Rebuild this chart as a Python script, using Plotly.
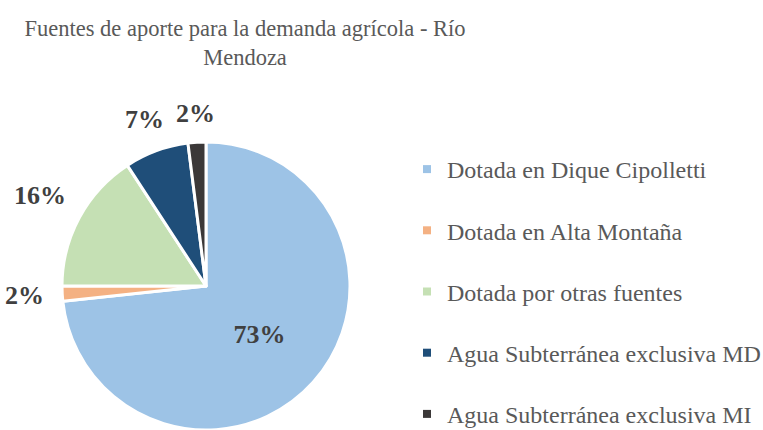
import math
import plotly.graph_objects as go

labels = ["Dotada en Dique Cipolletti", "Dotada en Alta Montaña", "Dotada por otras fuentes",
          "Agua Subterránea exclusiva MD", "Agua Subterránea exclusiva MI"]
values = [73.3, 1.7, 15.8, 7.2, 2.0]
colors = ["#9DC3E6", "#F4B183", "#C5E0B4", "#1F4E79", "#3B3838"]
inside_flags = [True, False, False, False, False]

W, H = 763, 430
SERIF = "Times New Roman, Liberation Serif, serif"
LABEL_SIZE = 26

# pie geometry (pixels)
dom_x = [62, 350]
dom_y_top = 142
cx = (dom_x[0] + dom_x[1]) / 2
R = (H - dom_y_top) / 2
cy = H - R

total = sum(values)
fig = go.Figure()
fig.add_trace(go.Pie(
    labels=labels, values=values, sort=False, direction="clockwise", rotation=0,
    marker=dict(colors=colors, line=dict(color="white", width=3)),
    texttemplate="<b>%{percent:.0%}</b>",
    textposition=["inside" if f else "none" for f in inside_flags],
    insidetextorientation="horizontal",
    textfont=dict(family=SERIF, size=LABEL_SIZE, color="#404040"),
    domain=dict(x=[dom_x[0] / W, dom_x[1] / W], y=[0, 1 - dom_y_top / H]),
    showlegend=False, hoverinfo="label+percent",
))

# outside percentage labels, placed along each slice's mid-angle, just beyond the rim
gap = 18
cum = 0.0
for v, f in zip(values, inside_flags):
    mid = (cum + v / 2) / total * 2 * math.pi
    cum += v
    if f:
        continue
    txt = f"{round(v / total * 100):.0f}%"
    tw = LABEL_SIZE * (0.5 * (len(txt) - 1) + 1.0)
    th = LABEL_SIZE * 0.72
    s, c = math.sin(mid), math.cos(mid)
    r_lab = R + gap + abs(s) * tw / 2 + abs(c) * th / 2
    px = cx + r_lab * s
    py = cy - r_lab * c
    fig.add_annotation(
        x=px / W, y=1 - py / H, xref="paper", yref="paper", showarrow=False,
        text=f"<b>{txt}</b>",
        font=dict(family=SERIF, size=LABEL_SIZE, color="#404040"),
        xanchor="center", yanchor="middle",
    )

for lab, col in zip(labels, colors):
    fig.add_trace(go.Scatter(
        x=[None], y=[None], mode="markers", name=lab, legendgroup=lab,
        marker=dict(symbol="square", size=8, color=col),
    ))

fig.update_layout(
    width=W, height=H, paper_bgcolor="white", plot_bgcolor="white",
    margin=dict(l=0, r=0, t=0, b=0, autoexpand=False),
    title=dict(text="Fuentes de aporte para la demanda agrícola - Río<br>Mendoza",
               x=245 / W, xanchor="center", y=1 - 36 / H, yanchor="top",
               font=dict(family=SERIF, size=22.5, color="#595959")),
    legend=dict(x=407 / W, xanchor="left", y=1 - 147 / H, yanchor="top",
                font=dict(family=SERIF, size=24, color="#595959"),
                tracegroupgap=27, itemwidth=30),
    xaxis=dict(visible=False), yaxis=dict(visible=False),
)
fig.write_html("out.html", config={"displayModeBar": False},
               post_script="document.body.style.margin='0';")
